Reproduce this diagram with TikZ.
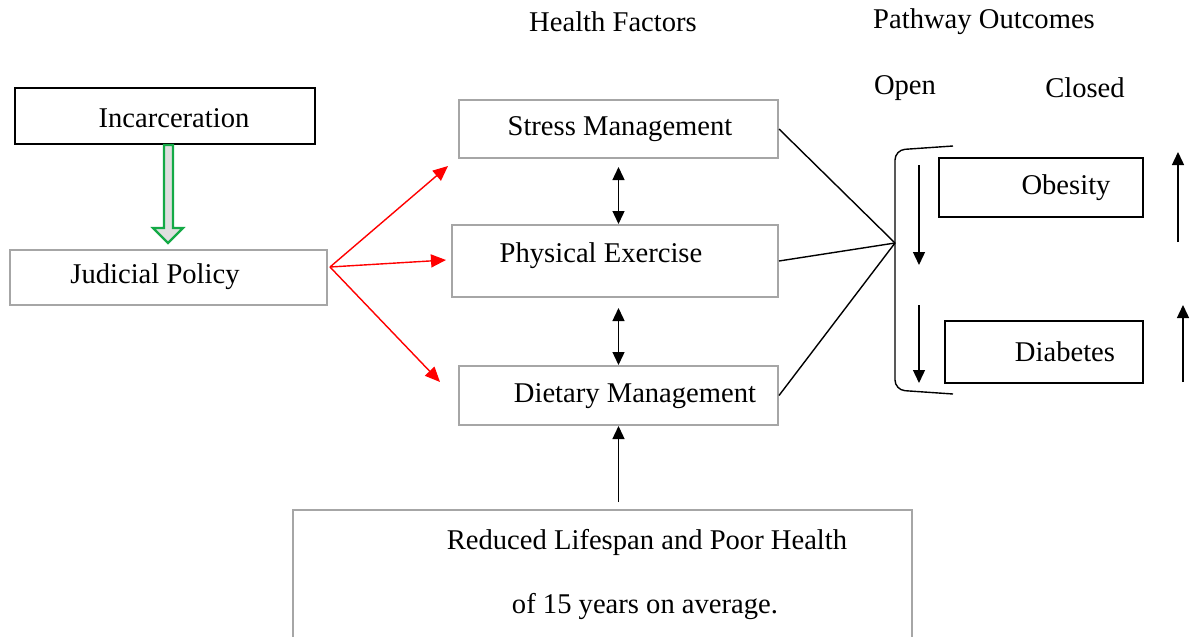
\documentclass[tikz,border=0pt]{standalone}
\usepackage{fontspec}
\setmainfont{Liberation Serif}
\usetikzlibrary{arrows.meta}
\begin{document}
\begin{tikzpicture}[x=0.5pt,y=-0.5pt,
 font=\fontsize{14.3}{17}\selectfont,
 graybox/.style={draw=gray!70, line width=1pt, inner sep=0pt},
 blackbox/.style={draw=black, line width=1.2pt, inner sep=0pt},
 txt/.style={inner sep=0pt, anchor=center},
 con/.style={line width=0.7pt},
 arr/.style={line width=0.7pt, -{Triangle[length=6.5pt,width=6pt]}},
 dbl/.style={line width=0.7pt, {Triangle[length=6.5pt,width=6pt]}-{Triangle[length=6.5pt,width=6pt]}},
 redarr/.style={red, line width=0.7pt, -{Triangle[length=7.5pt,width=6.5pt]}}
]
\useasboundingbox (0,0) rectangle (1194,637);

% headings
\node[txt] (hf) at (613,22) {Health Factors};
\node[txt] (po) at (984,22) {Pathway Outcomes};
\node[txt] (op) at (905,88) {Open};
\node[txt] (cl) at (1085,88) {Closed};

% boxes
\node[blackbox, minimum width=150pt, minimum height=28pt] (inc) at (165,116) {};
\node[txt] (inct) at (174,118) {Incarceration};
\node[graybox, minimum width=158.5pt, minimum height=27.5pt] (jud) at (168.5,277.5) {};
\node[txt] (judt) at (155,277) {Judicial Policy};

\node[graybox, minimum width=159.5pt, minimum height=29pt] (str) at (618.5,129) {};
\node[txt] (strt) at (620,129) {Stress Management};
\node[graybox, minimum width=163pt, minimum height=36pt] (phy) at (615,261) {};
\node[txt] (phyt) at (601,256) {Physical Exercise};
\node[graybox, minimum width=159.5pt, minimum height=29.5pt] (die) at (618.5,395.5) {};
\node[txt] (diet) at (635,396) {Dietary Management};

\node[blackbox, minimum width=102pt, minimum height=29.5pt] (obe) at (1041,187.5) {};
\node[txt] (obet) at (1066,188) {Obesity};
\node[blackbox, minimum width=99pt, minimum height=31pt] (dia) at (1044,352) {};
\node[txt] (diat) at (1065,352) {Diabetes};

\node[graybox, minimum width=309.5pt, minimum height=67.5pt] (red) at (602.5,577.5) {};
\node[txt] (redt1) at (647,542) {Reduced Lifespan and Poor Health};
\node[txt] (redt2) at (645,607) {of 15 years on average.};

% green hollow arrow
\draw[draw={rgb,255:red,20;green,170;blue,70}, fill=gray!25, line width=1.1pt, line join=miter]
  (164,145) -- (173,145) -- (173,228) -- (183,228) -- (168,243) -- (153,228) -- (164,228) -- cycle;

% red arrows
\coordinate (rs) at (330,267);
\coordinate (r1) at (448,166);
\coordinate (r2) at (446,260);
\coordinate (r3) at (440,382);
\draw[redarr] (rs) -- (r1);
\draw[redarr] (rs) -- (r2);
\draw[redarr] (rs) -- (r3);

% double arrows
\draw[dbl] ([yshift=-4pt]str.south) -- (str.south |- phy.north);
\draw[dbl] ([yshift=-5pt]str.south |- phy.south) -- (str.south |- die.north);

% up arrow from bottom box
\draw[arr] ([yshift=3.5pt]die.south |- red.north) -- (die.south);

% converging lines
\coordinate (cv) at (895,243);
\draw[con] (str.east) -- (cv);
\draw[con] (phy.east) -- (cv);
\draw[con] (die.east) -- (cv);

% bracket
\draw[con, rounded corners=5pt] (953,146) -- (895,150) -- (895,390) -- (953,394);

% open / closed arrows
\coordinate (o1a) at (919,165); \coordinate (o1b) at (919,265);
\coordinate (o2a) at (919,305); \coordinate (o2b) at (919,383);
\coordinate (c1a) at (1178,242); \coordinate (c1b) at (1178,152);
\coordinate (c2a) at (1183,382); \coordinate (c2b) at (1183,305);
\draw[arr] (o1a) -- (o1b);
\draw[arr] (o2a) -- (o2b);
\draw[arr] (c1a) -- (c1b);
\draw[arr] (c2a) -- (c2b);
\end{tikzpicture}
\end{document}
